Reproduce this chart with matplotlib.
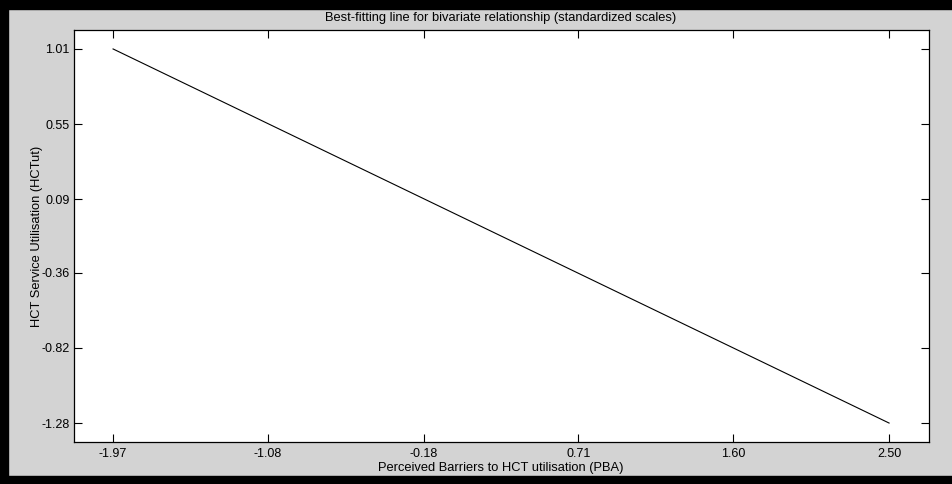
import matplotlib.pyplot as plt
from matplotlib.patches import Rectangle

plt.rcParams['font.family'] = ['Liberation Sans', 'DejaVu Sans']

# Fitted line end points (standardized scales)
pba = [-1.97, 2.50]
hct = [1.01, -1.28]

x_ticks = [-1.97, -1.08, -0.18, 0.71, 1.60, 2.50]
y_ticks = [1.01, 0.55, 0.09, -0.36, -0.82, -1.28]

fig = plt.figure(figsize=(9.52, 4.84), dpi=100, facecolor='#d3d3d3')
ax = fig.add_axes([74 / 952, 1 - 442 / 484, 855 / 952, 412 / 484])

ax.plot(pba, hct, color='black', linewidth=0.8)

ax.set_xlim(-2.195, 2.73)
ax.set_ylim(-1.396, 1.126)
ax.set_xticks(x_ticks)
ax.set_xticklabels([f'{v:.2f}' for v in x_ticks])
ax.set_yticks(y_ticks)
ax.set_yticklabels([f'{v:.2f}' for v in y_ticks])
ax.tick_params(direction='in', length=6, width=0.8, labelsize=9,
               top=True, right=True, colors='black')
ax.tick_params(axis='x', pad=4)
ax.tick_params(axis='y', pad=3)
for s in ax.spines.values():
    s.set_linewidth(0.9)

fig.text(501 / 952, 1 - 18 / 484, 'Best-fitting line for bivariate relationship (standardized scales)',
         ha='center', va='center', fontsize=9.3)
fig.text(501 / 952, 1 - 468 / 484, 'Perceived Barriers to HCT utilisation (PBA)',
         ha='center', va='center', fontsize=9.3)
fig.text(37 / 952, 1 - 236 / 484, 'HCT Service Utilisation (HCTut)',
         ha='center', va='center', rotation=90, fontsize=9.3)

# black frame on top, left and bottom
fig.patches.append(Rectangle((0, 1 - 9 / 484), 1, 9 / 484, transform=fig.transFigure,
                             color='black', zorder=0))
fig.patches.append(Rectangle((0, 0), 8 / 952, 1, transform=fig.transFigure,
                             color='black', zorder=0))
fig.patches.append(Rectangle((0, 0), 1, 8 / 484, transform=fig.transFigure,
                             color='black', zorder=0))

fig.savefig('out.png', dpi=100, facecolor=fig.get_facecolor())
